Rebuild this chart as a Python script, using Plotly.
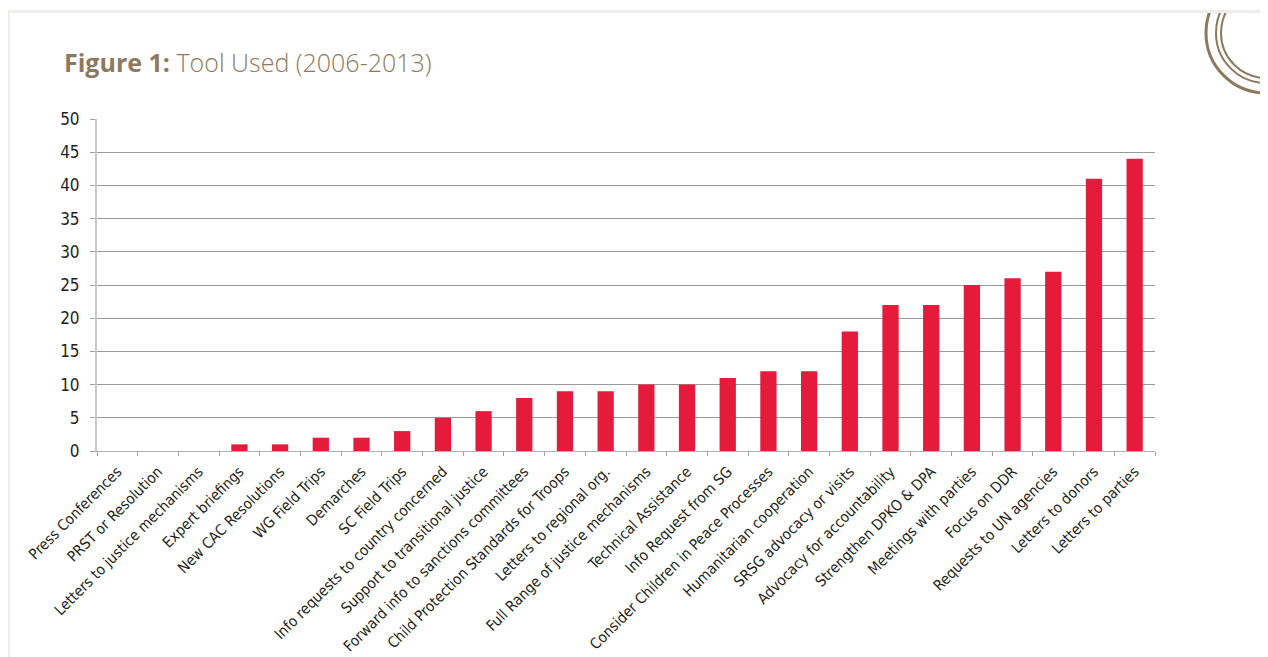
import plotly.graph_objects as pg

tools = ["Press Conferences", "PRST or Resolution", "Letters to justice mechanisms",
         "Expert briefings", "New CAC Resolutions", "WG Field Trips", "Demarches",
         "SC Field Trips", "Info requests to country concerned",
         "Support to transitional justice", "Forward info to sanctions committees",
         "Child Protection Standards for Troops", "Letters to regional org.",
         "Full Range of justice mechanisms", "Technical Assistance",
         "Info Request from SG", "Consider Children in Peace Processes",
         "Humanitarian cooperation", "SRSG advocacy or visits",
         "Advocacy for accountability", "Strengthen DPKO & DPA",
         "Meetings with parties", "Focus on DDR", "Requests to UN agencies",
         "Letters to donors", "Letters to parties"]
counts = [0, 0, 0, 1, 1, 2, 2, 3, 5, 6, 8, 9, 9, 10, 10, 11, 12, 12, 18, 22, 22, 25, 26, 27, 41, 44]
yTicks = [0, 5, 10, 15, 20, 25, 30, 35, 40, 45, 50]

# page has an 8px body margin, so the figure starts at (8, 8)
OFF = 8
W, H = 1260, 649
L, T = 97 - OFF, 119 - OFF
R, B = W - (1155 - OFF), H - (451 - OFF)
pw, ph = W - L - R, H - T - B

def px(x):
    return (x - OFF - L) / pw

def py(y):
    return (H - B - (y - OFF)) / ph

narrow = "Liberation Sans Narrow, DejaVu Sans Condensed, sans-serif"
brown = "#8c7a60"

fig = pg.Figure()
fig.add_trace(pg.Bar(x=tools, y=counts, marker=dict(color="#e41b3a", line=dict(width=0)), width=0.4))

shapes = []
# decorative rings top right
for r, w in [(60, 3), (50, 2), (45, 2)]:
    cx, cy = 1266, 33
    shapes.append(dict(type="circle", xref="paper", yref="paper",
                       x0=px(cx - r), x1=px(cx + r), y0=py(cy + r), y1=py(cy - r),
                       line=dict(color=brown, width=w)))
shapes.append(dict(type="rect", xref="paper", yref="paper", x0=px(0), x1=px(1300), y0=py(-20), y1=py(10),
                   fillcolor="white", line=dict(width=0)))
# page frame
shapes.append(dict(type="rect", xref="paper", yref="paper", x0=px(7), x1=px(1300), y0=py(10), y1=py(13),
                   fillcolor="#efedea", line=dict(width=0)))
shapes.append(dict(type="rect", xref="paper", yref="paper", x0=px(7), x1=px(10), y0=py(10), y1=py(700),
                   fillcolor="#efedea", line=dict(width=0)))

fig.update_layout(
    width=W, height=H,
    margin=dict(l=L, r=R, t=T, b=B),
    paper_bgcolor="white", plot_bgcolor="white",
    showlegend=False,
    shapes=shapes,
    font=dict(family=narrow, color="#231f20"),
    annotations=[dict(text="<b>Figure 1:</b><span style='font-weight:300'> Tool Used (2006-2013)</span>",
                      xref="paper", yref="paper", x=px(62), y=py(62), xanchor="left", yanchor="middle",
                      showarrow=False, font=dict(family="Open Sans, sans-serif", size=25, color=brown))],
)
fig.update_xaxes(type="category", tickangle=-45,
                 tickfont=dict(family=narrow, size=15, color="#231f20"),
                 showline=True, linecolor="#b0b0b0", linewidth=1,
                 ticks="outside", tickson="boundaries", ticklen=4, tickcolor="#a0a0a0",
                 ticklabelstandoff=5, showgrid=False, automargin=False)
fig.update_yaxes(range=[0, 50], tickvals=yTicks,
                 tickfont=dict(family=narrow, size=17, color="#231f20"),
                 showgrid=True, gridcolor="#9a9a9a", gridwidth=1,
                 showline=True, linecolor="#c8c8c8", linewidth=2,
                 ticks="outside", ticklen=5, tickcolor="#a0a0a0", zeroline=False,
                 ticklabelstandoff=7, automargin=False)

fig.write_html("out.html")
